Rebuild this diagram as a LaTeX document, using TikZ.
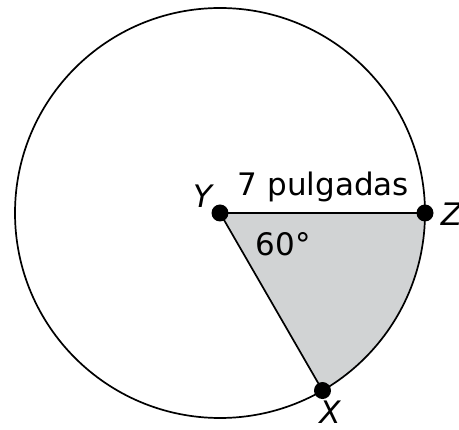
\documentclass[tikz,border=0pt]{standalone}
\usepackage{fontspec}
\setmainfont{DejaVu Sans}
\usepackage{tikz}
\usetikzlibrary{positioning,calc}
\definecolor{sectorgray}{HTML}{D1D3D4}
\tikzset{
  pt/.style={circle, fill=black, inner sep=0pt, minimum size=17pt},
  lbl/.style={font=\fontsize{31}{36}\selectfont, inner sep=0pt},
}
\begin{document}
\begin{tikzpicture}[x=1pt, y=-1pt, line width=1.7pt]
  \useasboundingbox (0,0) rectangle (459,430);
  % centre and the two points on the rim
  \coordinate (c) at (220,213);
  \coordinate (z) at ($(c)+(0:205)$);
  \coordinate (x) at ($(c)+(60:205)$);
  % shaded sector
  \fill[sectorgray] (c) -- (z) arc[start angle=0, end angle=60, radius=205] -- cycle;
  \draw (c) circle[radius=205];
  \draw (c) -- (z) (c) -- (x);
  \node[pt] (Y) at (c) {};
  \node[pt] (Z) at (z) {};
  \node[pt] (X) at (x) {};
  % labels
  \node[lbl, anchor=south east] (ylbl) at (213,208) {\itshape Y};
  \node[lbl, anchor=west] (zlbl) at (440,214) {\itshape Z};
  \node[lbl, anchor=north] (xlbl) at (330,400) {\itshape X};
  \node[lbl, anchor=base] (len) at (323.5,196) {7 pulgadas};
  \node[lbl, anchor=base west] (ang) at (255,256) {60°};
\end{tikzpicture}
\end{document}
